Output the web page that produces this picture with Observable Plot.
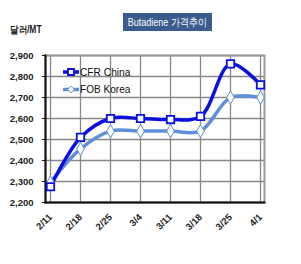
<!DOCTYPE html>
<html><head><meta charset="utf-8">
<script src="https://cdn.jsdelivr.net/npm/d3@7"></script>
<script src="https://cdn.jsdelivr.net/npm/@observablehq/plot@0.6"></script>
<style>
body{margin:0;background:#fff;}
#wrap{position:relative;width:301px;height:264px;overflow:hidden;font-family:"Liberation Sans",Arial,sans-serif;}
#title{position:absolute;left:123px;top:13px;width:89px;height:18px;background:#3b5c8f;color:#fff;font-size:11px;line-height:18px;text-align:center;white-space:nowrap;overflow:hidden;}
#title span{display:inline-block;transform:scaleX(0.82);transform-origin:center;margin-left:-20px;margin-right:-20px;}
#unit{position:absolute;left:10px;top:23px;font-size:10px;color:#222;font-weight:bold;}
#unit span{display:inline-block;transform:scaleX(0.85);transform-origin:left;}
#chart{position:absolute;left:0;top:0;}
#legend{position:absolute;left:0;top:0;pointer-events:none;}
</style></head><body>
<div id="wrap"><div id="chart"></div><svg id="legend" width="301" height="264"></svg><div id="title"><span>Butadiene 가격추이</span></div><div id="unit"><span>달러/MT</span></div></div>
<script>
const dates = ["2/11","2/18","2/25","3/4","3/11","3/18","3/25","4/1"];
const cfrChina = [2275,2510,2600,2600,2595,2610,2860,2760];
const fobKorea = [2295,2455,2540,2540,2540,2540,2700,2700];
const yTicks = [2200,2300,2400,2500,2600,2700,2800,2900];
const seriesNames = ["CFR China","FOB Korea"];
const colors = ["#0a10e0","#5f8fd8"];

const cfr = dates.map((d,i)=>({date:d, value:cfrChina[i]}));
const fob = dates.map((d,i)=>({date:d, value:fobKorea[i]}));

const fmt = d3.format(",");
const chart = Plot.plot({
  width:301, height:264,
  marginLeft:45, marginRight:37, marginTop:55, marginBottom:62,
  style:{fontFamily:"'Liberation Sans Narrow','Liberation Sans',Arial,sans-serif", background:"transparent"},
  x:{type:"point", domain:dates, padding:0.07, label:null},
  y:{domain:[2200,2900], label:null},
  marks:[
    Plot.gridY(yTicks,{stroke:"#888",strokeOpacity:1,strokeWidth:1.3}),
    Plot.gridX(dates,{stroke:"#888",strokeOpacity:1,strokeWidth:1.3}),
    Plot.frame({stroke:"#999",strokeWidth:2}),
    Plot.axisY(yTicks,{tickSize:3,stroke:"#111",tickPadding:9,tickFormat:fmt,fontSize:9.5,fontWeight:"bold",fill:"#222"}),
    Plot.axisX(dates,{tickSize:0,tickPadding:13,tickRotate:-45,fontSize:9.5,fontWeight:"bold",fill:"#222"}),
    Plot.frame({anchor:"left",stroke:"#111",strokeWidth:2}),
    Plot.frame({anchor:"bottom",stroke:"#111",strokeWidth:2}),
    Plot.line(fob,{x:"date",y:"value",stroke:colors[1],strokeWidth:3.5,curve:"catmull-rom"}),
    Plot.line(cfr,{x:"date",y:"value",stroke:colors[0],strokeWidth:3.5,curve:"catmull-rom"}),
    Plot.dot(fob,{x:"date",y:"value",symbol:"diamond",r:4,fill:"#fff",stroke:colors[1],strokeWidth:1}),
    Plot.dot(cfr,{x:"date",y:"value",symbol:"square",r:4.2,fill:"#fff",stroke:colors[0],strokeWidth:1.8})
  ]
});
document.getElementById("chart").appendChild(chart);

// legend overlay
const lg = d3.select("#legend");
seriesNames.forEach((name,i)=>{
  const g = lg.append("g").attr("transform",`translate(63,${72+i*17.5})`);
  g.append("line").attr("x1",0).attr("x2",16).attr("stroke",colors[i]).attr("stroke-width",3.5);
  g.append("path").attr("d",d3.symbol(i===0?d3.symbolSquare:d3.symbolDiamond2, i===0?36:30)())
    .attr("transform","translate(8,0)").attr("fill","#fff").attr("stroke",colors[i]).attr("stroke-width",i===0?1.8:1);
  g.append("text").attr("x",17).attr("y",0).attr("dy","0.35em").attr("font-size",10.5)
    .attr("font-family","'Liberation Sans',Arial,sans-serif").attr("fill","#111")
    .attr("textLength",name.length*5.6).attr("lengthAdjust","spacingAndGlyphs").text(name);
});
</script>
</body></html>
